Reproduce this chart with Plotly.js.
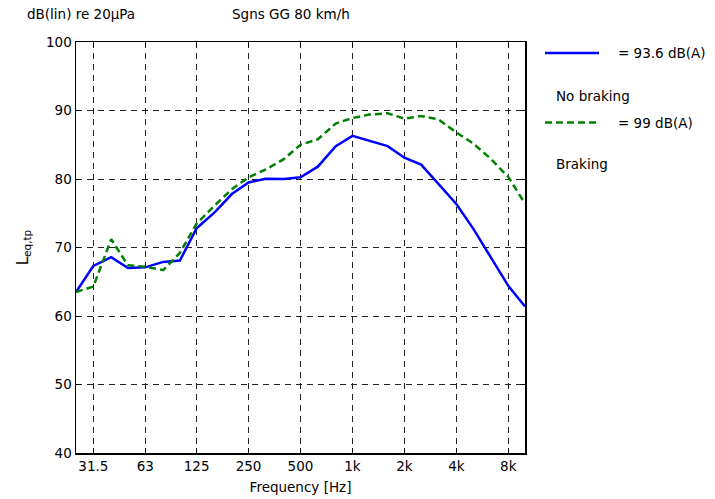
<!DOCTYPE html>
<html>
<head>
<meta charset="utf-8">
<script src="https://cdn.plot.ly/plotly-3.0.1.min.js"></script>
<style>html,body{margin:0;padding:0;background:#fff;}#chart{width:715px;height:499px;}</style>
</head>
<body>
<div id="chart"></div>
<script>
const freqs = [25, 31.5, 40, 50, 63, 80, 100, 125, 160, 200, 250, 315, 400, 500, 630, 800, 1000, 1250, 1600, 2000, 2500, 3150, 4000, 5000, 6300, 8000, 10000];
const noBraking = [63.5, 67.3, 68.6, 67.0, 67.1, 67.9, 68.1, 72.8, 75.2, 77.8, 79.5, 80.05, 80.0, 80.25, 81.8, 84.8, 86.3, 85.6, 84.8, 83.1, 82.1, 79.3, 76.35, 72.8, 68.7, 64.4, 61.4];
const braking = [63.5, 64.3, 71.2, 67.4, 67.2, 66.7, 69.2, 73.5, 76.2, 78.5, 80.25, 81.4, 82.9, 85.0, 85.8, 88.1, 88.9, 89.4, 89.6, 88.8, 89.2, 88.7, 86.8, 85.2, 83.0, 80.3, 76.4];
const tickVals = [31.5, 63, 125, 250, 500, 1000, 2000, 4000, 8000];
const tickText = ['31.5', '63', '125', '250', '500', '1k', '2k', '4k', '8k'];
const yTicks = [40, 50, 60, 70, 80, 90, 100];
const legendLabels = ['= 93.6 dB(A)', 'No braking', '= 99 dB(A)', 'Braking'];

const font = {family: 'DejaVu Sans, Arial, sans-serif', size: 13.5, color: '#000'};

const traces = [
  {x: freqs, y: noBraking, type: 'scatter', mode: 'lines', line: {color: '#0000ff', width: 2.5}, showlegend: false},
  {x: freqs, y: braking, type: 'scatter', mode: 'lines', line: {color: '#008000', width: 2.5, dash: '7px,4px'}, showlegend: false}
];

const L = 76, R = 525, T = 42, B = 453;
const px = v => (v - L) / (R - L);
const py = v => (B - v) / (B - T);

const layout = {
  width: 715, height: 499,
  margin: {l: L, r: 715 - R, t: T, b: 499 - B, pad: 0},
  paper_bgcolor: '#fff', plot_bgcolor: '#fff',
  font: font,
  showlegend: false,
  xaxis: {
    type: 'log', range: [Math.log10(25), 4],
    tickvals: tickVals, ticktext: tickText,
    showline: true, linecolor: '#000', linewidth: 1.5, mirror: 'allticks',
    ticks: 'inside', ticklen: 5, tickcolor: '#000', tickwidth: 1,
    showgrid: true, gridcolor: '#222', gridwidth: 1, griddash: '6px,5px',
    zeroline: false, tickfont: font,
    title: {text: 'Frequency [Hz]', font: font, standoff: 10}
  },
  yaxis: {
    range: [40, 100], tickvals: yTicks,
    showline: true, linecolor: '#000', linewidth: 1.5, mirror: 'allticks',
    ticks: 'inside', ticklen: 5, tickcolor: '#000', tickwidth: 1,
    showgrid: true, gridcolor: '#222', gridwidth: 1, griddash: '6px,5px',
    zeroline: false, tickfont: font,
    title: {text: 'L<sub>eq,tp</sub>', font: {family: font.family, size: 15, color: '#000'}, standoff: 14}
  },
  shapes: [
    {type: 'line', xref: 'paper', yref: 'paper', x0: px(545), x1: px(599), y0: py(53), y1: py(53), line: {color: '#0000ff', width: 2.5}},
    {type: 'line', xref: 'paper', yref: 'paper', x0: px(545), x1: px(599), y0: py(122.5), y1: py(122.5), line: {color: '#008000', width: 2.5, dash: '7px,4px'}}
  ],
  annotations: [
    {xref: 'paper', yref: 'paper', x: px(25), y: py(14), xanchor: 'left', yanchor: 'middle', text: 'dB(lin) re 20μPa', showarrow: false, font: font},
    {xref: 'paper', yref: 'paper', x: px(230), y: py(14), xanchor: 'left', yanchor: 'middle', text: 'Sgns GG 80 km/h', showarrow: false, font: font},
    {xref: 'paper', yref: 'paper', x: px(616), y: py(53), xanchor: 'left', yanchor: 'middle', text: legendLabels[0], showarrow: false, font: font},
    {xref: 'paper', yref: 'paper', x: px(554), y: py(96), xanchor: 'left', yanchor: 'middle', text: legendLabels[1], showarrow: false, font: font},
    {xref: 'paper', yref: 'paper', x: px(616), y: py(122.5), xanchor: 'left', yanchor: 'middle', text: legendLabels[2], showarrow: false, font: font},
    {xref: 'paper', yref: 'paper', x: px(554), y: py(164), xanchor: 'left', yanchor: 'middle', text: legendLabels[3], showarrow: false, font: font}
  ]
};

Plotly.newPlot('chart', traces, layout, {displayModeBar: false, staticPlot: true});
</script>
</body>
</html>
